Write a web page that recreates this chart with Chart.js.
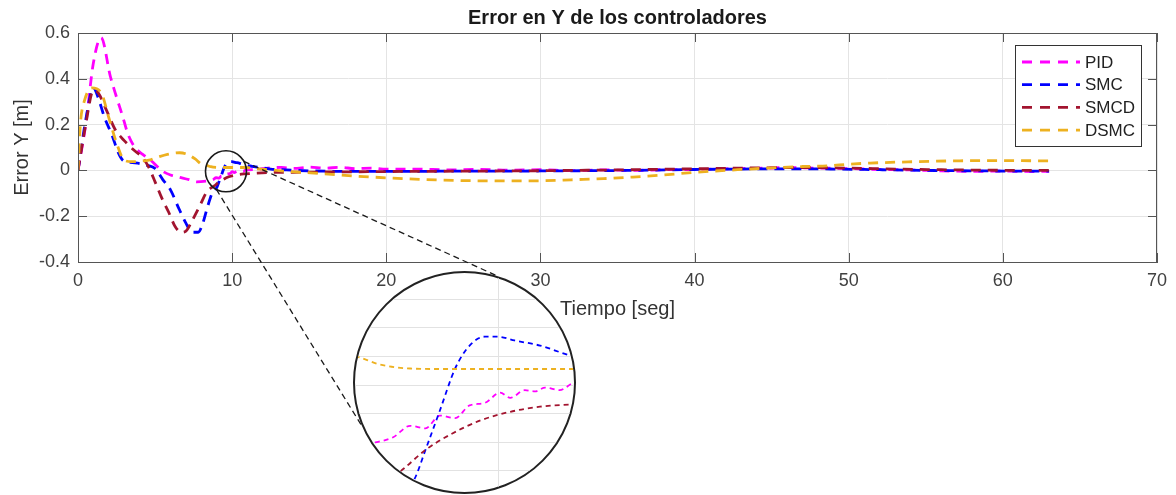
<!DOCTYPE html>
<html>
<head>
<meta charset="utf-8">
<script src="https://cdn.jsdelivr.net/npm/chart.js@4.4.1/dist/chart.umd.min.js"></script>
<style>
  html, body { margin: 0; padding: 0; background: #fff; }
  #wrap { position: relative; width: 1176px; height: 495px; }
  #main { position: absolute; left: 0; top: 0; }
  #lens { position: absolute; left: 353px; top: 271px; width: 223px; height: 223px;
          box-sizing: border-box; border: 2px solid #222; border-radius: 50%;
          overflow: hidden; background: #fff; }
  #zoom { display: block; }
</style>
</head>
<body>
<div id="wrap">
  <canvas id="main" width="1176" height="495"></canvas>
  <div id="lens"><canvas id="zoom" width="219" height="219"></canvas></div>
</div>
<script>
// ---- data ----
const seriesNames = ['PID', 'SMC', 'SMCD', 'DSMC'];
const seriesColors = ['#ff00ff', '#0000ff', '#a2142f', '#edb120'];

const xTicks = [0, 10, 20, 30, 40, 50, 60, 70];
const yTicks = [-0.4, -0.2, 0, 0.2, 0.4, 0.6];

const pidT = [0, 0.5, 1.0, 1.5, 2.1, 2.5, 2.9, 3.25, 3.7, 4.2, 4.7, 5.5, 6.0, 6.6, 7.2, 7.7, 8.35,
  8.55, 8.76, 8.96, 9.14, 9.31, 9.49, 9.66, 9.84, 10.02, 10.14, 10.31, 10.43, 10.55, 10.72, 10.9,
  11.5, 12.3, 13.2, 14, 15, 16, 17, 18, 19, 20, 22, 24, 26, 28, 30, 32, 34, 36, 38, 40,
  42, 44, 46, 48, 50, 52, 54, 56, 58, 60, 62, 63];
const pidY = [0, 0.2, 0.47, 0.58, 0.41, 0.32, 0.235, 0.157, 0.1, 0.07, 0.045, -0.004, -0.02, -0.03, -0.04, -0.05, -0.047,
  -0.045, -0.041, -0.032, -0.034, -0.024, -0.026, -0.016, -0.014, -0.006, -0.010, -0.004, -0.005, -0.002, -0.004, 0.002,
  0.004, 0.010, 0.013, 0.009, 0.014, 0.010, 0.013, 0.008, 0.010, 0.005, 0.006, 0.002, 0.004, 0.001, 0.003, -0.001, 0.002, 0.000, 0.003, 0.004,
  0.007, 0.009, 0.012, 0.010, 0.008, 0.004, 0.002, -0.002, -0.004, -0.003, -0.005, -0.004];

const smcT = [0, 0.5, 1.0, 1.3, 1.7, 2.2, 2.6, 2.9, 3.4, 4.0, 4.5, 5.0, 5.5, 6.0, 6.5, 7.0, 7.4, 7.8, 8.1, 8.4, 8.7,
  9.01, 9.14, 9.31, 9.49, 9.66, 9.84, 9.99, 10.19, 10.49, 10.86,
  11.3, 11.8, 12.5, 13.5, 15, 17, 19, 22, 25, 28, 31, 34, 37, 40, 43, 46, 49, 52, 55, 58, 61, 63];
const smcY = [0, 0.22, 0.36, 0.32, 0.235, 0.155, 0.08, 0.045, 0.035, 0.03, 0.022, 0.008, -0.04, -0.085, -0.16, -0.23, -0.27, -0.27, -0.23, -0.16, -0.1,
  -0.074, -0.051, -0.020, 0.013, 0.031, 0.038, 0.038, 0.035, 0.031, 0.023,
  0.018, 0.013, 0.006, 0.002, -0.002, -0.004, -0.004, -0.004, -0.003, -0.003, -0.002, -0.001, 0.001, 0.004, 0.006, 0.007, 0.006, 0.003, 0.000, -0.002, -0.003, -0.003];

const smcdT = [0, 0.5, 1.0, 1.3, 1.8, 2.4, 3.0, 3.6, 4.2, 4.6, 5.0, 5.5, 5.9, 6.3, 6.7, 7.0, 7.4, 7.9, 8.3, 8.6,
  8.84, 9.14, 9.43, 9.78, 10.14, 10.49, 10.9,
  11.5, 12.5, 14, 16, 18, 20, 23, 26, 29, 32, 35, 38, 41, 44, 47, 50, 53, 56, 59, 62, 63];
const smcdY = [0, 0.2, 0.35, 0.34, 0.27, 0.18, 0.13, 0.09, 0.055, 0.012, -0.05, -0.13, -0.185, -0.245, -0.27, -0.265, -0.22, -0.155, -0.1, -0.078,
  -0.068, -0.051, -0.039, -0.028, -0.021, -0.017, -0.015,
  -0.012, -0.009, -0.008, -0.007, -0.006, -0.005, -0.004, -0.003, -0.002, 0.000, 0.002, 0.005, 0.008, 0.011, 0.012, 0.010, 0.006, 0.003, 0.001, 0.000, 0.000];

const dsmcT = [0, 0.15, 0.4, 0.9, 1.5, 2.0, 2.5, 3.0, 3.5, 4.0, 4.6, 5.1, 5.8, 6.6, 7.1, 7.6, 8.0,
  8.35, 8.61, 8.96, 9.31, 10.0, 10.9,
  11.5, 12.5, 14, 16, 18, 20.2, 22.5, 25.4, 28, 30.3, 32, 34.1, 36, 37.6, 39.9, 42.8, 45, 47, 48.6, 50, 51.4, 54.3, 57.2, 60.1, 62.4, 63];
const dsmcY = [0, 0.2, 0.3, 0.36, 0.34, 0.23, 0.12, 0.045, 0.038, 0.04, 0.045, 0.056, 0.07, 0.077, 0.07, 0.05, 0.028,
  0.022, 0.016, 0.013, 0.0126, 0.0126, 0.0126,
  0.008, 0.002, -0.006, -0.015, -0.025, -0.033, -0.04, -0.045, -0.046, -0.045, -0.041, -0.036, -0.029, -0.022, -0.009, 0.003, 0.011, 0.017, 0.020, 0.027, 0.032, 0.038, 0.042, 0.043, 0.042, 0.042];

const seriesT = [pidT, smcT, smcdT, dsmcT];
const seriesY = [pidY, smcY, smcdY, dsmcY];

// magnified window
const zoomCenter = [9.6, -0.004];
const zoomX = [8.31, 10.89];
const zoomY = [-0.084, 0.088];
const zoomXGrid = [10];
const zoomYGrid = [-0.0675, -0.045, -0.0225, 0, 0.0225, 0.045, 0.0675];

Chart.defaults.font.family = '"Liberation Sans", Arial, Helvetica, sans-serif';

function makeSets(width, dash) {
  return seriesNames.map((name, i) => ({
    label: name,
    data: seriesT[i].map((t, k) => ({ x: t, y: seriesY[i][k] })),
    borderColor: seriesColors[i],
    borderWidth: width,
    borderDash: dash,
    pointRadius: 0,
    fill: false,
    cubicInterpolationMode: 'monotone',
    order: seriesNames.length - 1 - i
  }));
}

const lens = { cx: 353 + 111.5, cy: 271 + 111.5, r: 111.5 };

const decor = {
  id: 'decor',
  afterDatasetsDraw(chart) {
    const { ctx, chartArea: a, scales } = chart;
    ctx.save();
    // box + inward ticks
    ctx.strokeStyle = '#555';
    ctx.lineWidth = 1;
    ctx.strokeRect(a.left + 0.5, a.top + 0.5, a.right - a.left - 1, a.bottom - a.top);
    ctx.beginPath();
    xTicks.forEach(v => {
      const px = Math.round(scales.x.getPixelForValue(v)) + 0.5;
      ctx.moveTo(px, a.bottom); ctx.lineTo(px, a.bottom - 9);
      ctx.moveTo(px, a.top); ctx.lineTo(px, a.top + 9);
    });
    yTicks.forEach(v => {
      const py = Math.round(scales.y.getPixelForValue(v)) + 0.5;
      ctx.moveTo(a.left, py); ctx.lineTo(a.left + 9, py);
      ctx.moveTo(a.right, py); ctx.lineTo(a.right - 9, py);
    });
    ctx.stroke();

    // small circle + connectors to the lens
    const sx = scales.x.getPixelForValue(zoomCenter[0]);
    const sy = scales.y.getPixelForValue(zoomCenter[1]);
    const sr = 20.5;
    ctx.strokeStyle = '#1a1a1a';
    ctx.lineWidth = 1.6;
    ctx.beginPath(); ctx.arc(sx, sy, sr, 0, Math.PI * 2); ctx.stroke();
    ctx.setLineDash([6, 4]);
    ctx.lineWidth = 1.3;
    const rad = d => d * Math.PI / 180;
    [[-29, -73], [118, 157]].forEach(([as, ab]) => {
      ctx.beginPath();
      ctx.moveTo(sx + sr * Math.cos(rad(as)), sy + sr * Math.sin(rad(as)));
      ctx.lineTo(lens.cx + lens.r * Math.cos(rad(ab)), lens.cy + lens.r * Math.sin(rad(ab)));
      ctx.stroke();
    });
    ctx.setLineDash([]);

    // legend
    const lx = 1015, ly = 45, lw = 126, lh = 101;
    ctx.fillStyle = '#fff';
    ctx.fillRect(lx, ly, lw, lh);
    ctx.strokeStyle = '#333';
    ctx.lineWidth = 1;
    ctx.strokeRect(lx + 0.5, ly + 0.5, lw, lh);
    ctx.font = '17px "Liberation Sans", Arial, sans-serif';
    ctx.textBaseline = 'middle';
    ctx.textAlign = 'left';
    seriesNames.forEach((name, i) => {
      const y = 62 + i * 22.7;
      ctx.strokeStyle = seriesColors[i];
      ctx.lineWidth = 2.8;
      ctx.setLineDash([10, 8]);
      ctx.beginPath(); ctx.moveTo(1022, y); ctx.lineTo(1080, y); ctx.stroke();
      ctx.setLineDash([]);
      ctx.fillStyle = '#222';
      ctx.fillText(name, 1085, y + 1);
    });

    // title, centred on the plot area
    ctx.fillStyle = '#1a1a1a';
    ctx.font = 'bold 20px "Liberation Sans", Arial, sans-serif';
    ctx.textAlign = 'center';
    ctx.fillText('Error en Y de los controladores', (a.left + a.right) / 2, 18);
    ctx.restore();
  }
};

new Chart(document.getElementById('main'), {
  type: 'line',
  data: { datasets: makeSets(2.8, [10, 7]) },
  options: {
    responsive: false,
    animation: false,
    events: [],
    layout: { padding: { top: 33, right: 19, left: 0, bottom: 173 } },
    plugins: { legend: { display: false }, tooltip: { enabled: false } },
    scales: {
      x: {
        type: 'linear', min: 0, max: 70,
        afterBuildTicks: s => { s.ticks = xTicks.map(v => ({ value: v })); },
        afterFit: s => { s.height = 60; },
        ticks: { color: '#404040', font: { size: 18 }, padding: 8, maxRotation: 0, autoSkip: false },
        grid: { color: '#e4e4e4', drawTicks: false },
        border: { color: '#555' },
        title: { display: true, text: 'Tiempo [seg]', color: '#333', font: { size: 20 }, padding: { top: 0, bottom: 1 } }
      },
      y: {
        type: 'linear', min: -0.4, max: 0.6,
        afterBuildTicks: s => { s.ticks = yTicks.map(v => ({ value: v })); },
        afterFit: s => { s.width = 78; },
        ticks: { color: '#404040', font: { size: 18 }, padding: 8, callback: v => String(v) },
        grid: { color: '#e4e4e4', drawTicks: false },
        border: { color: '#555' },
        title: { display: true, text: 'Error Y [m]', color: '#333', font: { size: 20 }, padding: { top: 10, bottom: 0 } }
      }
    }
  },
  plugins: [decor]
});

new Chart(document.getElementById('zoom'), {
  type: 'line',
  data: { datasets: makeSets(1.8, [5, 4]) },
  options: {
    responsive: false,
    animation: false,
    events: [],
    layout: { padding: 0 },
    plugins: { legend: { display: false }, tooltip: { enabled: false } },
    scales: {
      x: {
        type: 'linear', min: zoomX[0], max: zoomX[1],
        afterBuildTicks: s => { s.ticks = zoomXGrid.map(v => ({ value: v })); },
        afterFit: s => { s.height = 0; },
        ticks: { display: false },
        grid: { color: '#e2e2e2', drawTicks: false },
        border: { display: false }
      },
      y: {
        type: 'linear', min: zoomY[0], max: zoomY[1],
        afterBuildTicks: s => { s.ticks = zoomYGrid.map(v => ({ value: v })); },
        afterFit: s => { s.width = 0; },
        ticks: { display: false },
        grid: { color: '#e2e2e2', drawTicks: false },
        border: { display: false }
      }
    }
  }
});
</script>
</body>
</html>
